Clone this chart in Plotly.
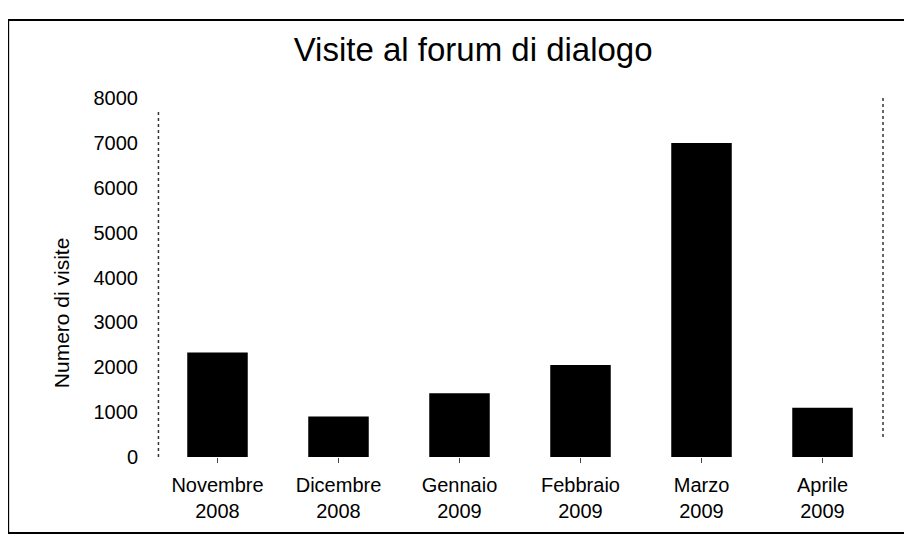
import plotly.graph_objects as go

months = ["Novembre<br>2008", "Dicembre<br>2008", "Gennaio<br>2009",
          "Febbraio<br>2009", "Marzo<br>2009", "Aprile<br>2009"]
visits = [2330, 900, 1420, 2050, 7000, 1100]
y_ticks = [0, 1000, 2000, 3000, 4000, 5000, 6000, 7000, 8000]

font_main = "Liberation Sans, Arial, sans-serif"

fig = go.Figure(go.Bar(x=months, y=visits, marker_color="black",
                       marker_line_width=0, width=0.5))

# the page body adds 8px, so margins are shifted by that
fig.update_layout(
    width=912, height=536,
    margin=dict(l=149, r=37, t=90, b=87),
    paper_bgcolor="white", plot_bgcolor="white",
    showlegend=False,
    font=dict(family=font_main, color="black", size=20),
    title=dict(text="Visite al forum di dialogo", x=0.51, xanchor="center",
               y=0.922, yanchor="middle",
               font=dict(family=font_main, size=33)),
    shapes=[
        dict(type="rect", xref="paper", yref="paper", x0=-0.205, x1=1.06,
             y0=-0.212, y1=1.217, line=dict(color="black", width=2)),
        dict(type="line", xref="paper", yref="paper", x0=0.002, x1=0.002,
             y0=0.0, y1=0.967, line=dict(color="#333", width=1.5, dash="dot")),
        dict(type="line", xref="paper", yref="paper", x0=1.0, x1=1.0,
             y0=0.056, y1=1.008, line=dict(color="#333", width=1.5, dash="dot")),
    ],
    annotations=[
        dict(text="Numero di visite", textangle=-90, xref="paper", yref="paper",
             x=-0.132, y=0.401, xanchor="center", yanchor="middle",
             showarrow=False, font=dict(size=21)),
    ],
)

fig.update_xaxes(showgrid=False, showline=False, ticks="outside", ticklen=5,
                 tickcolor="#444", tickfont=dict(size=20), ticklabelstandoff=5)
fig.update_yaxes(range=[0, 8000], tickvals=y_ticks, showgrid=False,
                 showline=False, zeroline=False, ticks="", ticklabelstandoff=18,
                 tickfont=dict(size=20))

fig.write_html("out.html")
